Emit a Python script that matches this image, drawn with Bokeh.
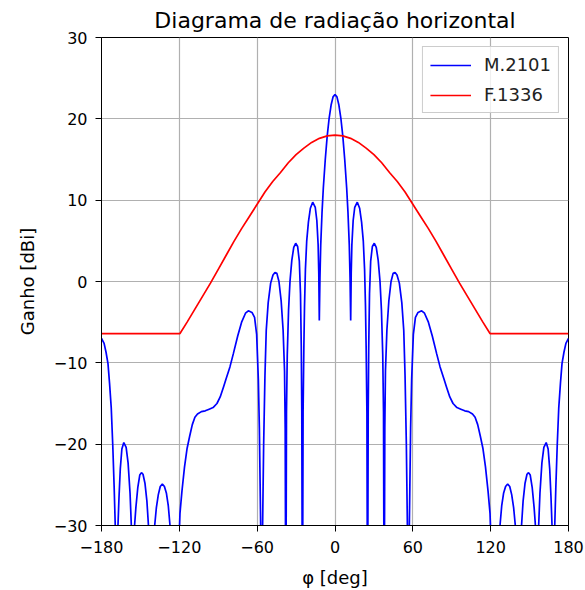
from bokeh.plotting import figure
from bokeh.models import Range1d, Legend, LegendItem, FixedTicker
from bokeh.embed import file_html
from bokeh.resources import INLINE

# ---- data (half pattern phi >= 0, mirrored) ----
phi_half = [0, 1.5, 3, 4.5, 6, 7.5, 9, 10, 11, 11.6, 12.1,
            12.5, 13.0, 14.0, 15.2, 17.2, 19.0, 20.5, 21.8, 22.8, 23.5, 24.0, 24.6, 25.1,
            25.6, 26.0, 26.6, 27.5, 28.8, 30.3, 31.8, 33.3, 34.7, 35.8, 36.8, 37.4, 37.9,
            38.4, 38.9, 40.0, 41.5, 43.2, 44.8, 46.3, 47.8, 49.6, 51.5, 53.0, 54.0, 55.0, 55.8, 56.5,
            57.3, 58.3, 59.1, 60.4, 62, 64, 66.8, 69, 72, 75, 78.4, 81, 84, 86, 88.5, 91, 94, 97,
            100, 103, 106, 108, 110, 112, 114, 116, 118, 119.5, 120.5, 123.5,
            126.5, 127.2, 128.5, 130, 131.5, 133.1, 134.7, 136.2, 137.7, 139.0, 139.8, 141.3,
            142.8, 143.8, 145, 146.5, 148, 149.2, 150.5, 152, 153.5, 154.5, 155.8,
            157.0, 158, 159.5, 161, 162.8, 164.3, 165.5, 166.5, 167.3, 168.3,
            169.4, 170.2, 171.3, 172.5, 173.8, 175, 176.5, 178, 180]
m2101_half = [23.0, 22.7, 21.7, 20.1, 17.9, 15.0, 11.5, 8.5, 4.5, 0.5, -4.8,
              1.0, 4.5, 7.5, 9.1, 9.75, 9.0, 7.3, 5.0, 1.5, -3.0, -8.0, -16.0, -45,
              -16, -8, -1.5, 2.5, 4.3, 4.7, 4.2, 2.6, 0.0, -3.5, -9.0, -16, -45,
              -18, -11, -6.0, -2.4, 0.0, 1.0, 1.1, 0.8, -0.2, -2.6, -6.0, -11.6, -20, -30, -45,
              -30, -18, -12, -6.5, -4.4, -3.8, -3.6, -3.9, -5.0, -6.7, -8.9, -10.5, -12.0, -13.0, -14.2, -15.0, -15.5, -15.7,
              -15.9, -16.0, -16.3, -16.7, -17.6, -19.0, -20.5, -22.8, -25.8, -28.5, -33, -45,
              -33, -30, -27.6, -26.0, -25.2, -24.9, -25.2, -26.2, -27.8, -30, -33, -45,
              -33, -30, -27, -24.8, -23.7, -23.5, -23.8, -25.3, -27.8, -30, -45,
              -30, -26, -22.3, -20.4, -19.8, -20.6, -23, -26.5, -30, -45,
              -30, -25.5, -20.2, -15.5, -12.5, -10.1, -8.7, -7.6, -7.0]

f1336_phi_half = [0, 6, 12, 18, 24, 30, 36, 42, 48, 54, 60, 66, 72, 78, 84, 90, 96,
                  102, 108, 114, 119.5, 180]
f1336_half = [18.0, 17.9, 17.6, 17.1, 16.4, 15.6, 14.6, 13.4, 12.3, 11.0, 9.5, 8.0, 6.5,
              4.9, 3.2, 1.5, -0.2, -1.8, -3.4, -5.0, -6.4, -6.4]

x_ticks = [-180, -120, -60, 0, 60, 120, 180]
y_ticks = [-30, -20, -10, 0, 10, 20, 30]

phi = [-v for v in phi_half[:0:-1]] + phi_half
m2101 = m2101_half[:0:-1] + m2101_half
f_phi = [-v for v in f1336_phi_half[:0:-1]] + f1336_phi_half
f1336 = f1336_half[:0:-1] + f1336_half

FONT = "DejaVu Sans"

p = figure(frame_width=467, frame_height=488,
           x_range=Range1d(-180, 180), y_range=Range1d(-30, 30),
           output_backend="svg", toolbar_location=None,
           min_border_left=101, min_border_right=16, min_border_top=37, min_border_bottom=64,
           title="Diagrama de radiação horizontal")
p.title.align = "center"
p.title.text_font = FONT
p.title.text_font_size = "22px"
p.title.text_font_style = "normal"
p.title.text_color = "black"
p.title.standoff = 9

p.background_fill_color = "white"
p.border_fill_color = "white"
p.outline_line_color = "black"
p.outline_line_alpha = 1.0
p.outline_line_width = 1

p.xaxis.ticker = FixedTicker(ticks=x_ticks)
p.yaxis.ticker = FixedTicker(ticks=y_ticks)
p.xaxis.major_label_overrides = {t: str(t).replace("-", "\u2212") for t in x_ticks}
p.yaxis.major_label_overrides = {t: str(t).replace("-", "\u2212") for t in y_ticks}
p.xaxis.axis_label = "φ [deg]"
p.yaxis.axis_label = "Ganho [dBi]"
for ax in (p.xaxis, p.yaxis):
    ax.axis_line_color = "black"
    ax.major_tick_line_color = "black"
    ax.major_tick_out = 6
    ax.major_tick_in = 0
    ax.minor_tick_line_color = None
    ax.major_label_text_font = FONT
    ax.major_label_text_font_size = "16px"
    ax.major_label_text_color = "black"
    ax.axis_label_text_font = FONT
    ax.axis_label_text_font_size = "18px"
    ax.axis_label_text_font_style = "normal"
    ax.axis_label_text_color = "black"
p.xaxis.major_label_standoff = 9
p.yaxis.major_label_standoff = 8
p.yaxis.axis_label_standoff = 13
p.xaxis.axis_label_standoff = 11

p.grid.grid_line_color = "#b0b0b0"
p.grid.grid_line_width = 1.2
p.grid.grid_line_alpha = 1.0

r1 = p.line(phi, m2101, line_color="#0000ff", line_width=1.7)
r2 = p.line(f_phi, f1336, line_color="#ff0000", line_width=1.7)

legend = Legend(items=[LegendItem(label="M.2101", renderers=[r1]),
                       LegendItem(label="F.1336", renderers=[r2])],
                location="top_right")
legend.label_text_font = FONT
legend.label_text_font_size = "18px"
legend.label_text_color = "#222222"
legend.border_line_color = "#cccccc"
legend.border_line_alpha = 1.0
legend.background_fill_alpha = 0.8
legend.padding = 7
legend.spacing = 9
legend.label_height = 20
legend.glyph_height = 20
legend.glyph_width = 41
legend.label_standoff = 13
legend.margin = 9
p.add_layout(legend)

open("out.html", "w").write(file_html(p, INLINE))
